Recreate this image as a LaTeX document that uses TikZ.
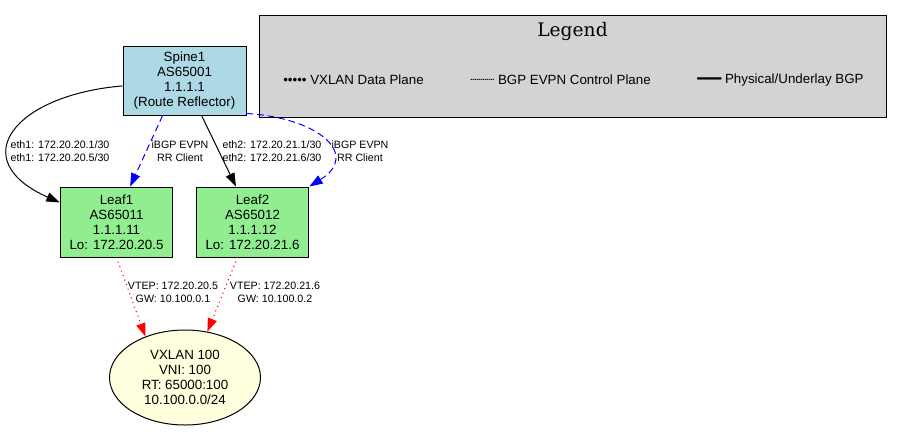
\documentclass[tikz,border=0pt]{standalone}
\usepackage{fontspec}
\setmainfont{Liberation Sans}
\newfontfamily\legendfont{DejaVu Serif}
\newfontfamily\boxfont{DejaVu Sans}
\usetikzlibrary{arrows.meta,shapes.geometric}
\definecolor{spineblue}{HTML}{ADD8E6}
\definecolor{leafgreen}{HTML}{90EE90}
\definecolor{vniyellow}{HTML}{FFFFE0}
\definecolor{legendgray}{HTML}{D3D3D3}

\begin{document}
\begin{tikzpicture}[x=0.75pt, y=-0.75pt, >={Triangle[length=10pt,width=7pt]},
    box node/.style={rectangle,draw,line width=0.75pt,align=center,inner sep=0pt,
      font=\fontsize{10}{11.2}\selectfont},
    spine node/.style={box node,fill=spineblue,minimum width=92.25pt,minimum height=51.75pt},
    leaf node/.style={box node,fill=leafgreen,minimum width=84.5pt,minimum height=52.5pt},
    vni node/.style={box node,ellipse,fill=vniyellow,minimum width=113.25pt,minimum height=71.25pt},
    legend node/.style={rectangle,draw,line width=0.75pt,fill=legendgray,
      minimum width=470.25pt,minimum height=76.5pt},
    legend item/.style={anchor=west,inner sep=0pt,font=\fontsize{10}{12}\selectfont},
    edge label/.style={align=center,inner sep=0pt,font=\fontsize{8}{9.6}\selectfont},
    underlay/.style={->,black,line width=0.75pt},
    evpn/.style={->,blue,line width=0.75pt,dash pattern=on 5pt off 3pt},
    dataplane/.style={->,red,line width=1.1pt,line cap=round,dash pattern=on 0pt off 3.6pt}]
  \useasboundingbox (0,0) rectangle (902,433);

  % routers
  \node[spine node] (spine) at (184.5,80.5) {Spine1\\AS65001\\1.1.1.1\\(Route Reflector)};
  \node[leaf node] (leaf1) at (116.5,222) {Leaf1\\AS65011\\1.1.1.11\\Lo: 172.20.20.5};
  \node[leaf node] (leaf2) at (252.5,222) {Leaf2\\AS65012\\1.1.1.12\\Lo: 172.20.21.6};
  \node[vni node] (vxlan) at (185,377.5) {VXLAN 100\\VNI: 100\\RT: 65000:100\\10.100.0.0/24};

  % legend
  \node[legend node] (legend) at (572.5,66) {};
  \node[inner sep=0pt,font=\legendfont\fontsize{14}{16}\selectfont] (legendtitle) at (572.5,31) {Legend};
  \node[legend item] (itemdata) at (283,80) {••••• VXLAN Data Plane};
  \node[legend item] (itemevpn) at (470,80) {{\boxfont ┈┈┈} BGP EVPN Control Plane};
  \node[legend item] (itemphys) at (697,80) {{\boxfont ━━━} Physical/Underlay BGP};

  % links
  \draw[underlay] (spine.185) .. controls (14,95) and (-36,160) .. (leaf1.161);
  \path[evpn] (spine.238) edge (leaf1.69);
  \path[underlay] (spine.296) edge (leaf2.115);
  \draw[evpn] (spine.332) .. controls (320,118) and (360,155) .. (leaf2.north east);
  \path[dataplane]
    (leaf1.south) edge (vxlan.134)
    (leaf2.247) edge (vxlan.64);

  % link labels
  \node[edge label] (lab1) at (60,151) {eth1: 172.20.20.1/30\\eth1: 172.20.20.5/30};
  \node[edge label] (lab2) at (180,151) {iBGP EVPN\\RR Client};
  \node[edge label] (lab3) at (272,151) {eth2: 172.20.21.1/30\\eth2: 172.20.21.6/30};
  \node[edge label] (lab4) at (360,151) {iBGP EVPN\\RR Client};
  \node[edge label] (lab5) at (173,292) {VTEP: 172.20.20.5\\GW: 10.100.0.1};
  \node[edge label] (lab6) at (275,292) {VTEP: 172.20.21.6\\GW: 10.100.0.2};
\end{tikzpicture}
\end{document}
